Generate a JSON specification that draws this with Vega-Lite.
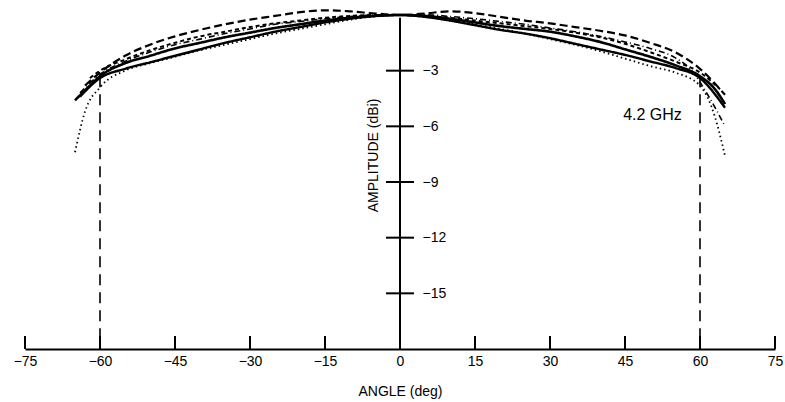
{
  "$schema": "https://vega.github.io/schema/vega-lite/v6.json",
  "width": 750,
  "height": 334,
  "autosize": {"type": "none"},
  "padding": {"left": 25, "top": 15, "right": 10, "bottom": 53},
  "background": "white",
  "config": {
    "view": {"stroke": null},
    "font": "Liberation Sans",
    "axis": {"grid": false, "labelColor": "black", "titleColor": "black", "titleFontWeight": "normal"}
  },
  "datasets": {
    "curves": [
      {"s":"S1","a":-65,"db":-4.6},{"s":"S1","a":-62,"db":-3.8},{"s":"S1","a":-60,"db":-3.3},{"s":"S1","a":-55,"db":-2.6},{"s":"S1","a":-50,"db":-2.2},{"s":"S1","a":-45,"db":-1.8},{"s":"S1","a":-40,"db":-1.5},{"s":"S1","a":-35,"db":-1.2},{"s":"S1","a":-30,"db":-0.95},{"s":"S1","a":-25,"db":-0.7},{"s":"S1","a":-20,"db":-0.5},{"s":"S1","a":-15,"db":-0.3},{"s":"S1","a":-10,"db":-0.15},{"s":"S1","a":-5,"db":-0.05},{"s":"S1","a":0,"db":0},{"s":"S1","a":5,"db":-0.05},{"s":"S1","a":10,"db":-0.2},{"s":"S1","a":15,"db":-0.4},{"s":"S1","a":20,"db":-0.6},{"s":"S1","a":25,"db":-0.75},{"s":"S1","a":30,"db":-0.9},{"s":"S1","a":35,"db":-1.15},{"s":"S1","a":40,"db":-1.45},{"s":"S1","a":45,"db":-1.85},{"s":"S1","a":50,"db":-2.25},{"s":"S1","a":55,"db":-2.7},{"s":"S1","a":60,"db":-3.3},{"s":"S1","a":63,"db":-4.0},{"s":"S1","a":65,"db":-4.8},
      {"s":"S2","a":-64,"db":-4.4},{"s":"S2","a":-60,"db":-3.4},{"s":"S2","a":-55,"db":-2.9},{"s":"S2","a":-50,"db":-2.55},{"s":"S2","a":-45,"db":-2.2},{"s":"S2","a":-40,"db":-1.85},{"s":"S2","a":-35,"db":-1.5},{"s":"S2","a":-30,"db":-1.2},{"s":"S2","a":-25,"db":-0.9},{"s":"S2","a":-20,"db":-0.65},{"s":"S2","a":-15,"db":-0.4},{"s":"S2","a":-10,"db":-0.2},{"s":"S2","a":-5,"db":-0.05},{"s":"S2","a":0,"db":0},{"s":"S2","a":5,"db":-0.1},{"s":"S2","a":10,"db":-0.3},{"s":"S2","a":15,"db":-0.55},{"s":"S2","a":20,"db":-0.8},{"s":"S2","a":25,"db":-1.0},{"s":"S2","a":30,"db":-1.25},{"s":"S2","a":35,"db":-1.55},{"s":"S2","a":40,"db":-1.85},{"s":"S2","a":45,"db":-2.15},{"s":"S2","a":50,"db":-2.5},{"s":"S2","a":55,"db":-2.85},{"s":"S2","a":60,"db":-3.4},{"s":"S2","a":65,"db":-5.0},
      {"s":"S3","a":-63,"db":-3.8},{"s":"S3","a":-60,"db":-3.1},{"s":"S3","a":-55,"db":-2.2},{"s":"S3","a":-50,"db":-1.6},{"s":"S3","a":-45,"db":-1.15},{"s":"S3","a":-40,"db":-0.8},{"s":"S3","a":-35,"db":-0.5},{"s":"S3","a":-30,"db":-0.25},{"s":"S3","a":-25,"db":-0.05},{"s":"S3","a":-20,"db":0.15},{"s":"S3","a":-15,"db":0.25},{"s":"S3","a":-10,"db":0.2},{"s":"S3","a":-5,"db":0.08},{"s":"S3","a":0,"db":0},{"s":"S3","a":5,"db":0.08},{"s":"S3","a":10,"db":0.2},{"s":"S3","a":15,"db":0.1},{"s":"S3","a":20,"db":-0.1},{"s":"S3","a":25,"db":-0.3},{"s":"S3","a":30,"db":-0.45},{"s":"S3","a":35,"db":-0.65},{"s":"S3","a":40,"db":-0.85},{"s":"S3","a":45,"db":-1.1},{"s":"S3","a":50,"db":-1.5},{"s":"S3","a":55,"db":-2.0},{"s":"S3","a":60,"db":-2.9},{"s":"S3","a":65,"db":-4.3},
      {"s":"S4","a":-62,"db":-3.4},{"s":"S4","a":-60,"db":-3.0},{"s":"S4","a":-55,"db":-2.4},{"s":"S4","a":-50,"db":-1.9},{"s":"S4","a":-45,"db":-1.5},{"s":"S4","a":-40,"db":-1.15},{"s":"S4","a":-35,"db":-0.9},{"s":"S4","a":-30,"db":-0.65},{"s":"S4","a":-25,"db":-0.45},{"s":"S4","a":-20,"db":-0.3},{"s":"S4","a":-15,"db":-0.15},{"s":"S4","a":-10,"db":-0.05},{"s":"S4","a":-5,"db":0},{"s":"S4","a":0,"db":0},{"s":"S4","a":5,"db":-0.05},{"s":"S4","a":10,"db":-0.15},{"s":"S4","a":15,"db":-0.3},{"s":"S4","a":20,"db":-0.45},{"s":"S4","a":25,"db":-0.6},{"s":"S4","a":30,"db":-0.75},{"s":"S4","a":35,"db":-0.95},{"s":"S4","a":40,"db":-1.2},{"s":"S4","a":45,"db":-1.55},{"s":"S4","a":50,"db":-2.0},{"s":"S4","a":55,"db":-2.5},{"s":"S4","a":60,"db":-3.1},{"s":"S4","a":64,"db":-4.0},
      {"s":"S5","a":-65,"db":-7.4},{"s":"S5","a":-63,"db":-5.2},{"s":"S5","a":-60,"db":-3.9},{"s":"S5","a":-55,"db":-3.0},{"s":"S5","a":-50,"db":-2.6},{"s":"S5","a":-45,"db":-2.25},{"s":"S5","a":-40,"db":-1.9},{"s":"S5","a":-35,"db":-1.6},{"s":"S5","a":-30,"db":-1.3},{"s":"S5","a":-25,"db":-1.0},{"s":"S5","a":-20,"db":-0.75},{"s":"S5","a":-15,"db":-0.5},{"s":"S5","a":-10,"db":-0.25},{"s":"S5","a":-5,"db":-0.08},{"s":"S5","a":0,"db":0},{"s":"S5","a":5,"db":-0.1},{"s":"S5","a":10,"db":-0.3},{"s":"S5","a":15,"db":-0.5},{"s":"S5","a":20,"db":-0.75},{"s":"S5","a":25,"db":-1.0},{"s":"S5","a":30,"db":-1.3},{"s":"S5","a":35,"db":-1.6},{"s":"S5","a":40,"db":-1.95},{"s":"S5","a":45,"db":-2.35},{"s":"S5","a":50,"db":-2.75},{"s":"S5","a":55,"db":-3.1},{"s":"S5","a":60,"db":-3.8},{"s":"S5","a":63,"db":-5.5},{"s":"S5","a":65,"db":-7.6},
      {"s":"S6","a":-64,"db":-4.2},{"s":"S6","a":-60,"db":-3.2},{"s":"S6","a":-55,"db":-2.5},{"s":"S6","a":-50,"db":-2.0},{"s":"S6","a":-45,"db":-1.6},{"s":"S6","a":-40,"db":-1.3},{"s":"S6","a":-35,"db":-1.0},{"s":"S6","a":-30,"db":-0.75},{"s":"S6","a":-25,"db":-0.5},{"s":"S6","a":-20,"db":-0.35},{"s":"S6","a":-15,"db":-0.2},{"s":"S6","a":-10,"db":-0.08},{"s":"S6","a":-5,"db":0},{"s":"S6","a":0,"db":0},{"s":"S6","a":5,"db":0.02},{"s":"S6","a":10,"db":-0.08},{"s":"S6","a":15,"db":-0.2},{"s":"S6","a":20,"db":-0.35},{"s":"S6","a":25,"db":-0.5},{"s":"S6","a":30,"db":-0.7},{"s":"S6","a":35,"db":-0.9},{"s":"S6","a":40,"db":-1.15},{"s":"S6","a":45,"db":-1.45},{"s":"S6","a":50,"db":-1.8},{"s":"S6","a":55,"db":-2.3},{"s":"S6","a":58,"db":-2.9},{"s":"S6","a":62,"db":-4.5},{"s":"S6","a":65,"db":-6.0}
    ],
    "guides": [
      {"a":-60,"top":-3.3,"bottom":-18},
      {"a":60,"top":-3.3,"bottom":-18}
    ],
    "yaxisline": [{"a":0,"top":-0.15,"bottom":-18}],
    "yticks": [
      {"db":-3,"x1":-2.8,"x2":2.8},{"db":-6,"x1":-2.8,"x2":2.8},{"db":-9,"x1":-2.8,"x2":2.8},{"db":-12,"x1":-2.8,"x2":2.8},{"db":-15,"x1":-2.8,"x2":2.8}
    ],
    "xticks": [
      {"a":-75,"y1":-18,"y2":-17.3},{"a":-60,"y1":-18,"y2":-17.3},{"a":-45,"y1":-18,"y2":-17.3},{"a":-30,"y1":-18,"y2":-17.3},{"a":-15,"y1":-18,"y2":-17.3},{"a":0,"y1":-18,"y2":-17.3},{"a":15,"y1":-18,"y2":-17.3},{"a":30,"y1":-18,"y2":-17.3},{"a":45,"y1":-18,"y2":-17.3},{"a":60,"y1":-18,"y2":-17.3},{"a":75,"y1":-18,"y2":-17.3}
    ],
    "labels": [{"a":50.5,"db":-5.4,"text":"4.2 GHz"}]
  },
  "layer": [
    {
      "data": {"name": "curves"},
      "mark": {"type": "line", "color": "black", "interpolate": "monotone", "clip": false},
      "encoding": {
        "x": {"field": "a", "type": "quantitative", "scale": {"domain": [-75, 75], "nice": false, "zero": false},
          "axis": {"orient": "bottom", "values": [-75,-60,-45,-30,-15,0,15,30,45,60,75], "domain": true, "domainColor": "black", "domainWidth": 2, "ticks": false, "labelFontSize": 14, "labelPadding": 5, "labelFlush": false, "title": "ANGLE (deg)", "titleFontSize": 14, "titlePadding": 16}},
        "y": {"field": "db", "type": "quantitative", "scale": {"domain": [-18, 0], "nice": false, "zero": false},
          "axis": {"orient": "right", "offset": -375, "values": [-3,-6,-9,-12,-15], "domain": false, "ticks": false, "labelFontSize": 14, "labelPadding": 22, "title": "AMPLITUDE (dBi)", "titleFontSize": 14, "titleAngle": 270, "titleX": -27, "titleY": 140, "titleAlign": "center", "titleBaseline": "middle"}},
        "detail": {"field": "s"},
        "strokeDash": {"field": "s", "type": "nominal", "legend": null,
          "scale": {"domain": ["S1","S2","S3","S4","S5","S6"], "range": [[1,0],[1,0],[8,4],[4,3],[1.5,3],[6,3,1,3]]}},
        "strokeWidth": {"field": "s", "type": "nominal", "legend": null,
          "scale": {"domain": ["S1","S2","S3","S4","S5","S6"], "range": [2.6,1.6,1.4,1.4,1.2,1.0]}}
      }
    },
    {
      "data": {"name": "guides"},
      "mark": {"type": "rule", "color": "black", "strokeWidth": 1.6, "strokeDash": [11, 7]},
      "encoding": {
        "x": {"field": "a", "type": "quantitative"},
        "y": {"field": "top", "type": "quantitative"},
        "y2": {"field": "bottom"}
      }
    },
    {
      "data": {"name": "yaxisline"},
      "mark": {"type": "rule", "color": "black", "strokeWidth": 2},
      "encoding": {
        "x": {"field": "a", "type": "quantitative"},
        "y": {"field": "top", "type": "quantitative"},
        "y2": {"field": "bottom"}
      }
    },
    {
      "data": {"name": "yticks"},
      "mark": {"type": "rule", "color": "black", "strokeWidth": 2},
      "encoding": {
        "y": {"field": "db", "type": "quantitative"},
        "x": {"field": "x1", "type": "quantitative"},
        "x2": {"field": "x2"}
      }
    },
    {
      "data": {"name": "xticks"},
      "mark": {"type": "rule", "color": "black", "strokeWidth": 2},
      "encoding": {
        "x": {"field": "a", "type": "quantitative"},
        "y": {"field": "y1", "type": "quantitative"},
        "y2": {"field": "y2"}
      }
    },
    {
      "data": {"name": "labels"},
      "mark": {"type": "text", "color": "black", "fontSize": 16, "align": "center", "baseline": "middle", "font": "Liberation Sans"},
      "encoding": {
        "x": {"field": "a", "type": "quantitative"},
        "y": {"field": "db", "type": "quantitative"},
        "text": {"field": "text"}
      }
    }
  ]
}
